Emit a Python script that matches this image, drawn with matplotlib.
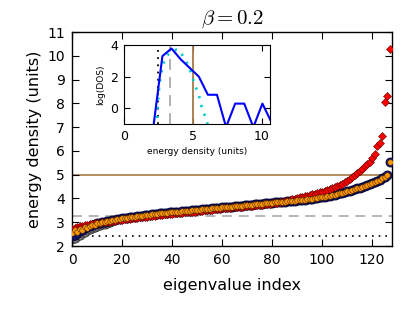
import matplotlib
matplotlib.use("Agg")
import matplotlib.pyplot as plt
import numpy as np

plt.rcParams['mathtext.fontset'] = 'cm'

# ---------------- data ----------------
idx = list(range(128))

gray_vals = [2.28, 2.34, 2.40, 2.47, 2.54, 2.60, 2.66, 2.71, 2.76, 2.80,
             2.84, 2.88, 2.91, 2.94, 2.97, 3.00]

navy_vals = [2.40, 2.48, 2.56, 2.63, 2.69, 2.74, 2.79, 2.83, 2.87, 2.91,
             2.95, 2.98, 3.00, 3.02, 3.04, 3.06, 3.08, 3.10, 3.12, 3.14,
             3.16, 3.18, 3.19, 3.21, 3.22, 3.24, 3.25, 3.27, 3.28, 3.30,
             3.31, 3.32, 3.33, 3.35, 3.36, 3.37, 3.38, 3.39, 3.40, 3.41,
             3.42, 3.43, 3.44, 3.45, 3.46, 3.47, 3.48, 3.49, 3.50, 3.51,
             3.52, 3.53, 3.54, 3.55, 3.56, 3.57, 3.58, 3.59, 3.60, 3.61,
             3.62, 3.63, 3.64, 3.65, 3.66, 3.67, 3.68, 3.69, 3.70, 3.71,
             3.72, 3.73, 3.74, 3.75, 3.76, 3.77, 3.78, 3.79, 3.80, 3.81,
             3.82, 3.83, 3.84, 3.85, 3.86, 3.87, 3.88, 3.89, 3.90, 3.91,
             3.92, 3.93, 3.94, 3.95, 3.97, 3.98, 3.99, 4.01, 4.02, 4.04,
             4.06, 4.08, 4.10, 4.12, 4.14, 4.16, 4.18, 4.21, 4.24, 4.27,
             4.30, 4.33, 4.36, 4.39, 4.42, 4.46, 4.50, 4.54, 4.58, 4.62,
             4.66, 4.70, 4.74, 4.79, 4.84, 4.90, 4.97, 5.52]

orange_vals = [2.55, 2.66, 2.60, 2.72, 2.68, 2.80, 2.76, 2.86, 2.90, 2.88,
               2.97, 2.96, 3.01, 3.02, 3.05, 3.06, 3.09, 3.10, 3.12, 3.14,
               3.16, 3.18, 3.19, 3.21, 3.22, 3.24, 3.25, 3.27, 3.28, 3.30,
               3.31, 3.32, 3.33, 3.35, 3.36, 3.37, 3.38, 3.39, 3.40, 3.41,
               3.42, 3.43, 3.44, 3.45, 3.46, 3.47, 3.48, 3.49, 3.50, 3.51,
               3.52, 3.53, 3.54, 3.55, 3.56, 3.57, 3.58, 3.59, 3.60, 3.61,
               3.62, 3.63, 3.64, 3.65, 3.66, 3.67, 3.68, 3.69, 3.70, 3.71,
               3.72, 3.73, 3.74, 3.75, 3.76, 3.77, 3.78, 3.79, 3.80, 3.81,
               3.82, 3.83, 3.84, 3.85, 3.86, 3.87, 3.88, 3.89, 3.90, 3.91,
               3.92, 3.93, 3.94, 3.95, 3.97, 3.98, 3.99, 4.01, 4.02, 4.04,
               4.06, 4.08, 4.10, 4.12, 4.14, 4.16, 4.18, 4.21, 4.24, 4.27,
               4.30, 4.33, 4.36, 4.39, 4.42, 4.46, 4.50, 4.54, 4.58, 4.62,
               4.66, 4.70, 4.74, 4.79, 4.84, 4.90, 5.00, 5.52]

red_vals = [2.70, 2.76, 2.80, 2.83, 2.86, 2.88, 2.90, 2.92, 2.94, 2.96,
            2.97, 2.98, 2.99, 3.00, 3.02, 3.03, 3.05, 3.06, 3.08, 3.09,
            3.11, 3.12, 3.14, 3.15, 3.17, 3.18, 3.19, 3.21, 3.22, 3.23,
            3.24, 3.26, 3.27, 3.28, 3.29, 3.30, 3.31, 3.33, 3.34, 3.35,
            3.36, 3.37, 3.38, 3.39, 3.40, 3.41, 3.42, 3.43, 3.44, 3.45,
            3.47, 3.48, 3.49, 3.50, 3.51, 3.52, 3.53, 3.54, 3.55, 3.56,
            3.58, 3.59, 3.60, 3.61, 3.62, 3.63, 3.64, 3.65, 3.66, 3.67,
            3.68, 3.69, 3.70, 3.71, 3.72, 3.73, 3.74, 3.76, 3.77, 3.78,
            3.79, 3.81, 3.82, 3.84, 3.86, 3.88, 3.90, 3.93, 3.96, 3.99,
            4.02, 4.05, 4.08, 4.10, 4.12, 4.15, 4.17, 4.20, 4.23, 4.26,
            4.29, 4.32, 4.35, 4.39, 4.43, 4.47, 4.52, 4.57, 4.62, 4.68,
            4.75, 4.82, 4.90, 4.98, 5.05, 5.15, 5.25, 5.35, 5.45, 5.55,
            5.68, 5.85, 6.20, 6.35, 6.62, 8.05, 8.30, 10.30]

hline_brown = 4.97
hline_dashed = 3.27
hline_dotted = 2.42

dos_x = [2.13, 2.79, 3.45, 4.11, 4.77, 5.43, 6.09, 6.75, 7.41, 8.07,
         8.73, 9.39, 10.05, 10.71]
dos_y = [-1.2, 3.30, 3.78, 3.10, 2.55, 2.00, 0.85, 0.85, -1.2, 0.29,
         0.29, -1.2, 0.29, -0.90]

theo_x = [2.35, 2.45, 2.55, 2.65, 2.80, 3.00, 3.25, 3.50, 3.80, 4.03,
          4.27, 4.56, 4.88, 5.17, 5.41, 5.58, 5.78, 5.95, 6.10]
theo_y = [-1.2, 0.2, 1.3, 2.0, 2.7, 3.15, 3.45, 3.62, 3.70, 3.67,
          3.30, 2.88, 2.22, 1.39, 0.94, 0.25, -0.23, -0.69, -1.1]

vline_dotted = 2.45
vline_dashed = 3.35
vline_brown = 4.98

# ---------------- figure ----------------
fig = plt.figure(figsize=(4.15, 3.12), dpi=100)
ax = fig.add_axes([72/415, 1-246/312, 320/415, 214/312])

brown = '#a57a45'
ax.axhline(hline_brown, color=brown, lw=1.2, zorder=1)
ax.axhline(hline_dashed, color='#aaaaaa', lw=1.2, ls=(0, (6, 4)), zorder=1)
ax.axhline(hline_dotted, color='black', lw=1.2, ls=(0, (1, 3)), zorder=1)

ax.plot(idx[:len(gray_vals)], gray_vals, 'o', ms=6.5, mfc='#888888', mec='#333333',
        mew=0.6, zorder=2)
ax.plot(idx, navy_vals, 'o', ms=6.5, mfc='#1a1a6e', mec='#000033', mew=0.6, zorder=3)
ax.plot(idx, red_vals, 'D', ms=4.0, mfc='red', mec='#550000', mew=0.4, zorder=4)
ax.plot(idx, orange_vals, 'o', ms=4.0, mfc='#ff9900', mec='#442200', mew=0.4, zorder=5)

ax.set_xlim(0, 128)
ax.set_ylim(2, 11)
ax.set_xticks([0, 20, 40, 60, 80, 100, 120])
ax.set_yticks(range(2, 12))
ax.tick_params(direction='in', top=True, right=True, length=5, width=0.8,
               labelsize=10, pad=5)
for s in ax.spines.values():
    s.set_linewidth(1.0)
ax.set_xlabel('eigenvalue index', fontsize=11.5, labelpad=8)
ax.set_ylabel('energy density (units)', fontsize=11.5, labelpad=4)
ax.set_title(r'$\beta=0.2$', fontsize=15, pad=6)

# ---------------- inset ----------------
ins = fig.add_axes([124/415, 1-124/312, 146/415, 79/312])
ins.axvline(vline_dotted, color='black', lw=1.3, ls=(0, (1, 3)))
ins.axvline(vline_dashed, color='#aaaaaa', lw=1.3, ls=(0, (6, 4)))
ins.axvline(vline_brown, color=brown, lw=1.3)
ins.plot(theo_x, theo_y, color='#00cccc', lw=2.0, ls=(0, (0.8, 2.5)))
ins.plot(dos_x, dos_y, color='blue', lw=1.5)
ins.set_xlim(0, 10.6)
ins.set_ylim(-1, 4)
ins.set_xticks([0, 5, 10])
ins.set_yticks([0, 2, 4])
ins.tick_params(direction='in', top=True, right=True, length=4, width=0.8,
                labelsize=9, pad=4)
ins.set_xlabel('energy density (units)', fontsize=6.5, labelpad=3)
ins.set_ylabel('log(DOS)', fontsize=6.5, labelpad=4)

fig.savefig('out.png', dpi=100)
